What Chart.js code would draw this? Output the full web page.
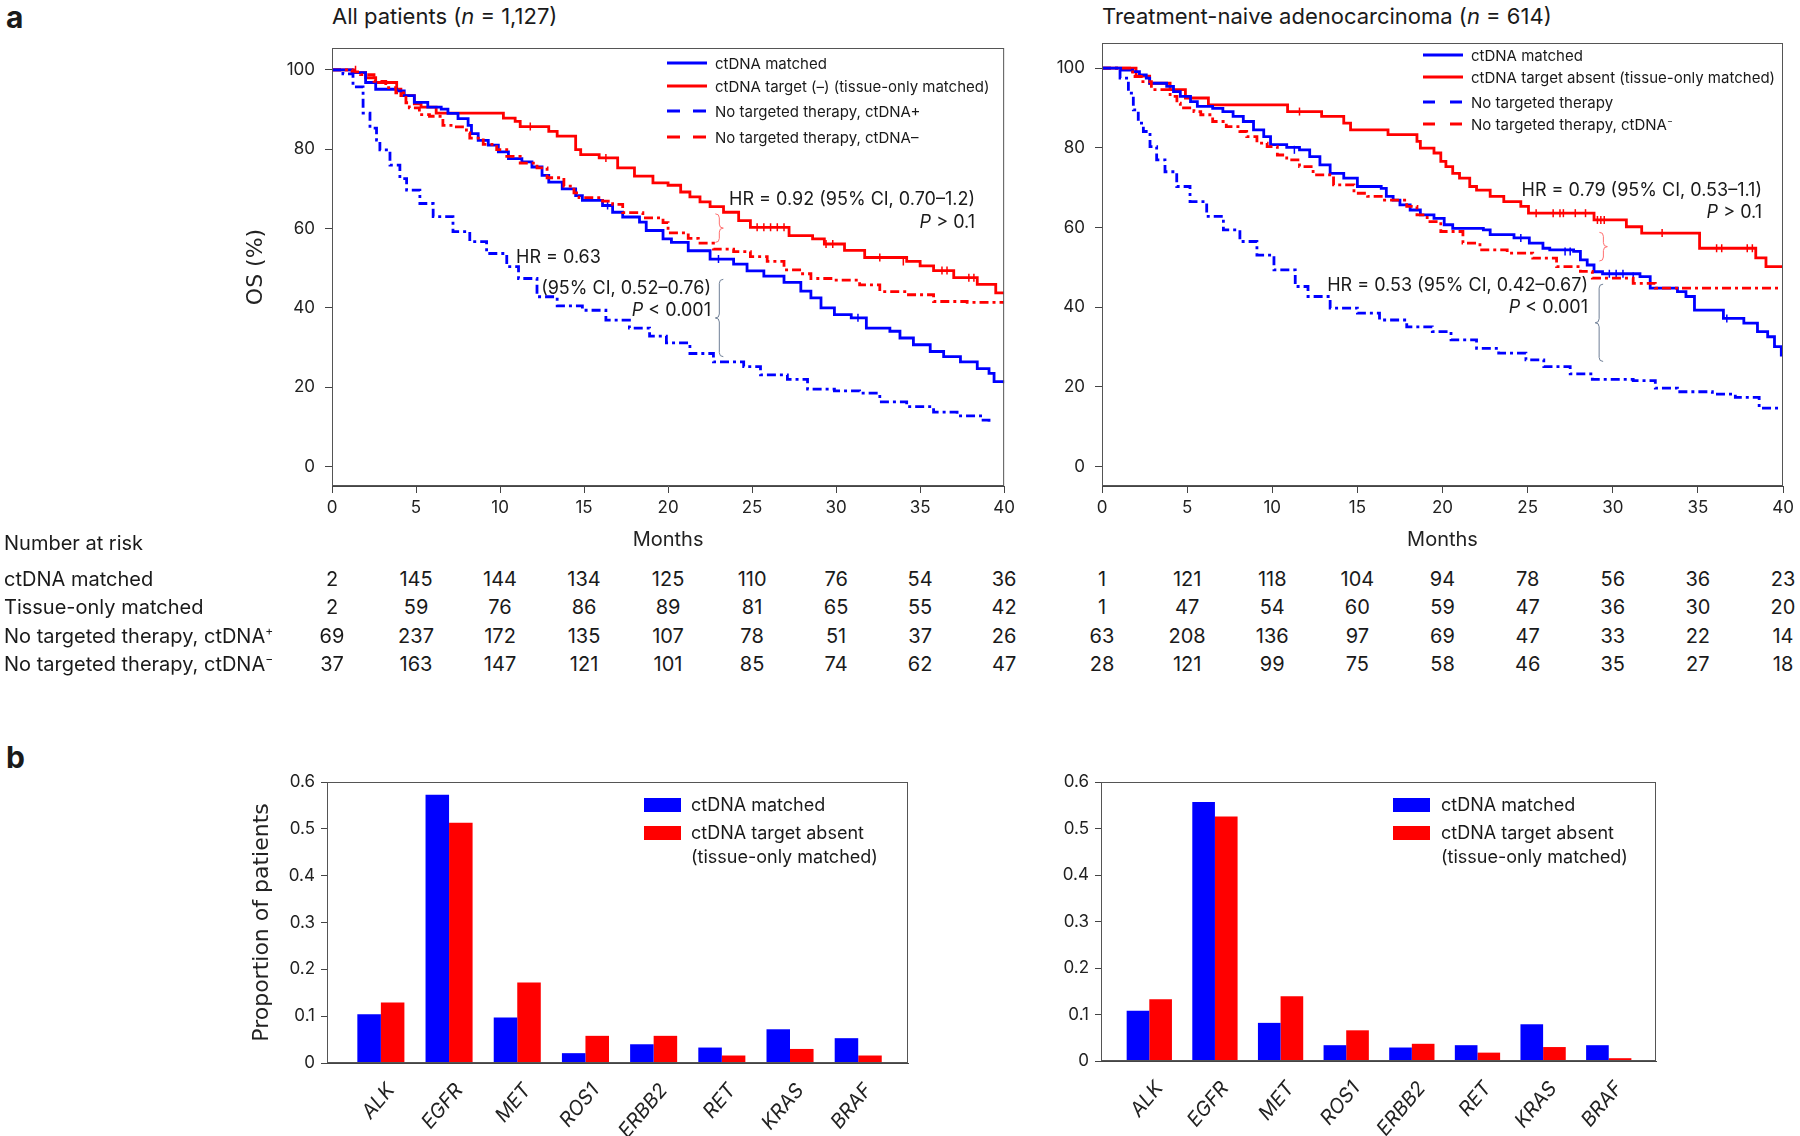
<!DOCTYPE html>
<html>
<head>
<meta charset="utf-8">
<script src="https://cdn.jsdelivr.net/npm/chart.js@4.4.1/dist/chart.umd.min.js"></script>
<style>
  body { margin: 0; background: #fff; font-family: Inter, "Liberation Sans", sans-serif; color: #1a1a1a; }
  #page { position: relative; width: 1800px; height: 1136px; overflow: hidden; }
  .cv { position: absolute; }
  .t { position: absolute; white-space: nowrap; line-height: 1; transform: translateY(-50%); }
  .r { transform: translate(-100%, -50%); }
  .c { transform: translate(-50%, -50%); }
  .panel { font-weight: 700; font-size: 30px; }
  .title { font-size: 22px; }
  .ann { font-size: 18px; }
  .leg { font-size: 15px; }
  .bleg { font-size: 18px; }
  .risk { font-size: 20px; }
  .sw { position: absolute; }
  sup { font-size: 0.6em; line-height: 0; }
</style>
</head>
<body>
<div id="page">
  <div class="t panel" style="left:6px;top:17px">a</div>
  <div class="t panel" style="left:6px;top:757px">b</div>

  <div class="t title" style="left:332px;top:16px">All patients (<i>n</i> = 1,127)</div>
  <div class="t title" style="left:1102px;top:16px">Treatment-naive adenocarcinoma (<i>n</i> = 614)</div>

  <canvas id="kmAll" class="cv" style="left:0;top:0" width="1020" height="560"></canvas>
  <canvas id="kmNaive" class="cv" style="left:1020px;top:0" width="780" height="560"></canvas>
  <canvas id="barAll" class="cv" style="left:0;top:700px" width="920" height="436"></canvas>
  <canvas id="barNaive" class="cv" style="left:920px;top:700px" width="880" height="436"></canvas>

  <!-- KM legends -->
  <svg class="sw" style="left:667px;top:60px" width="40" height="6"><line x1="0" y1="3" x2="40" y2="3" stroke="#0000ff" stroke-width="3"/></svg>
  <svg class="sw" style="left:667px;top:83px" width="40" height="6"><line x1="0" y1="3" x2="40" y2="3" stroke="#ff0000" stroke-width="3"/></svg>
  <svg class="sw" style="left:667px;top:108px" width="40" height="6"><line x1="0" y1="3" x2="40" y2="3" stroke="#0000ff" stroke-width="3" stroke-dasharray="13 13"/></svg>
  <svg class="sw" style="left:667px;top:134px" width="40" height="6"><line x1="0" y1="3" x2="40" y2="3" stroke="#ff0000" stroke-width="3" stroke-dasharray="13 13"/></svg>
  <div class="t leg" style="left:715px;top:63px">ctDNA matched</div>
  <div class="t leg" style="left:715px;top:86px">ctDNA target (–) (tissue-only matched)</div>
  <div class="t leg" style="left:715px;top:111px">No targeted therapy, ctDNA+</div>
  <div class="t leg" style="left:715px;top:137px">No targeted therapy, ctDNA–</div>

  <svg class="sw" style="left:1423px;top:52px" width="40" height="6"><line x1="0" y1="3" x2="40" y2="3" stroke="#0000ff" stroke-width="3"/></svg>
  <svg class="sw" style="left:1423px;top:74px" width="40" height="6"><line x1="0" y1="3" x2="40" y2="3" stroke="#ff0000" stroke-width="3"/></svg>
  <svg class="sw" style="left:1423px;top:99px" width="40" height="6"><line x1="0" y1="3" x2="40" y2="3" stroke="#0000ff" stroke-width="3" stroke-dasharray="12 15"/></svg>
  <svg class="sw" style="left:1423px;top:121px" width="40" height="6"><line x1="0" y1="3" x2="40" y2="3" stroke="#ff0000" stroke-width="3" stroke-dasharray="12 15"/></svg>
  <div class="t leg" style="left:1471px;top:55px">ctDNA matched</div>
  <div class="t leg" style="left:1471px;top:77px">ctDNA target absent (tissue-only matched)</div>
  <div class="t leg" style="left:1471px;top:102px">No targeted therapy</div>
  <div class="t leg" style="left:1471px;top:124px">No targeted therapy, ctDNA<sup>−</sup></div>

  <!-- HR annotations -->
  <div class="t ann r" style="left:975px;top:199px">HR = 0.92 (95% CI, 0.70–1.2)</div>
  <div class="t ann r" style="left:975px;top:222px"><i>P</i> &gt; 0.1</div>
  <div class="t ann" style="left:516px;top:257px">HR = 0.63</div>
  <div class="t ann r" style="left:711px;top:288px">(95% CI, 0.52–0.76)</div>
  <div class="t ann r" style="left:711px;top:310px"><i>P</i> &lt; 0.001</div>
  <div class="t ann r" style="left:1762px;top:190px">HR = 0.79 (95% CI, 0.53–1.1)</div>
  <div class="t ann r" style="left:1762px;top:212px"><i>P</i> &gt; 0.1</div>
  <div class="t ann r" style="left:1588px;top:285px">HR = 0.53 (95% CI, 0.42–0.67)</div>
  <div class="t ann r" style="left:1588px;top:307px"><i>P</i> &lt; 0.001</div>

  <!-- bar legends -->
  <div class="sw" style="left:644px;top:798px;width:37px;height:14px;background:#0000ff"></div>
  <div class="sw" style="left:644px;top:826px;width:37px;height:14px;background:#ff0000"></div>
  <div class="t bleg" style="left:691px;top:805px">ctDNA matched</div>
  <div class="t bleg" style="left:691px;top:833px">ctDNA target absent</div>
  <div class="t bleg" style="left:691px;top:857px">(tissue-only matched)</div>
  <div class="sw" style="left:1393px;top:798px;width:37px;height:14px;background:#0000ff"></div>
  <div class="sw" style="left:1393px;top:826px;width:37px;height:14px;background:#ff0000"></div>
  <div class="t bleg" style="left:1441px;top:805px">ctDNA matched</div>
  <div class="t bleg" style="left:1441px;top:833px">ctDNA target absent</div>
  <div class="t bleg" style="left:1441px;top:857px">(tissue-only matched)</div>

  <div id="risk"></div>
</div>

<script>
// ---- data ----
const monthTicks = [0, 5, 10, 15, 20, 25, 30, 35, 40];
const osTicks = [0, 20, 40, 60, 80, 100];

// all patients, [month, OS %]
const allMatched = [[0,100],[1.2,99.3],[2,96.8],[2.6,95.1],[3.85,94.7],[4.3,93.5],[4.9,91.8],[5.7,90.6],[6.5,90.1],[6.9,89],[7.5,87.7],[8.1,86],[8.3,83.9],[8.7,82.2],[9.3,81],[9.9,79.3],[10.5,77.6],[11.3,76.8],[11.9,75.5],[12.5,73.4],[12.9,71.7],[13.7,70],[14.5,68.3],[14.9,67.1],[16.1,65.8],[16.7,64.1],[17.3,62.9],[18.3,61.6],[18.7,59.5],[19.7,57.4],[20.2,56.5],[21.2,54.4],[22.5,52.3],[23.9,51],[24.7,49.3],[25.7,48],[26.9,46.4],[27.9,44.2],[28.5,42.5],[29.1,40],[29.9,38.3],[30.9,37.5],[31.8,34.9],[33.2,34.1],[33.8,32.4],[34.6,30.7],[35.6,29],[36.4,27.7],[37.4,26.4],[38.4,24.7],[39.1,23.5],[39.4,21.4],[40,21]];
const allTissue = [[0,100],[1.3,99.3],[2,98],[2.6,96.8],[3.85,95.1],[4.1,93.5],[4.9,91.4],[5.3,90.6],[6.2,89.1],[10.2,87.8],[10.9,87],[11.2,85.7],[12.9,84.5],[13.4,83.3],[14.5,79.9],[14.8,78.6],[15.9,77.8],[17,75.3],[18,73.2],[19.1,71.5],[20,70.9],[20.75,69.2],[21.3,68],[21.9,66.7],[22.5,65.5],[23.3,64.1],[24.2,62],[24.9,60.3],[27.2,58.2],[28.6,57.4],[29.3,56.1],[30.5,54.5],[31.7,52.7],[34.2,51.7],[35,50.6],[35.8,49.4],[37,47.6],[38.4,45.9],[39.5,43.8],[40,43.8]];
const allNoTxPos = [[0,100],[0.65,99],[1.25,95.7],[1.85,89.1],[2.26,85.3],[2.65,82.3],[2.85,79.8],[3.45,76],[4.04,72.6],[4.44,69.7],[5.23,66.3],[6.02,63],[7.2,59.2],[8.2,56.7],[9.2,53.7],[10.4,50.4],[11.1,47.4],[12.2,42.8],[13.4,40.5],[14.9,39.4],[16.3,36.9],[17.7,34.9],[18.9,32.9],[19.9,31.2],[21.3,28.5],[22.7,26.4],[24.5,25.2],[25.5,23.1],[27.1,22],[28.3,19.5],[29.9,19.1],[31.4,18.5],[32.6,16.3],[34.2,15.1],[35.8,13.7],[37.2,12.8],[38.6,11.7],[39.1,10.7],[39.2,10.7]];
const allNoTxNeg = [[0,100],[1.2,99.5],[1.7,98.8],[2.5,97.1],[3.2,95.5],[3.8,94.2],[4.4,91.7],[4.6,90.4],[5.2,88.7],[5.8,88.3],[6.6,86],[7.4,85.6],[8,84.1],[8.2,82.8],[9,81.2],[9.8,79.9],[10.4,78.2],[11.2,76.5],[12.2,75.3],[12.8,72.8],[13.8,70.7],[14.4,69],[14.7,67.8],[16.1,66.9],[16.7,66.1],[17.3,64],[18.5,62.7],[19.7,61.5],[20,58.9],[21.2,57.5],[21.8,56.3],[22.7,54.8],[23.9,54.2],[24.9,52.9],[25.9,51.7],[26.9,49.6],[28,48.6],[28.5,47.4],[29.9,47],[31.4,45.8],[32.6,44.1],[34.2,43.3],[35.8,41.6],[37.8,41.4],[40,41.4]];
const allTissueCensor = [[1.4,100],[11.8,85.7],[16.3,77.8],[25.3,60.3],[25.7,60.3],[26.1,60.3],[26.5,60.3],[26.9,60.3],[29.4,56.1],[29.8,56.1],[32.6,52.7],[34,51.7],[36.3,49.4],[36.6,49.4],[37.9,47.6],[38.2,47.6]];
const allMatchedCensor = [[16.4,65.8],[23,52.3],[31.3,37.5]];

// treatment-naive adenocarcinoma
const naiveMatched = [[0,100],[1.1,99.5],[1.8,99.1],[2.2,98.3],[2.6,97.5],[2.8,96.2],[3.8,95.4],[4.2,94.1],[4.6,92.9],[5.2,91.6],[5.6,90.4],[6.5,89.9],[7.1,89.1],[7.7,87.9],[8.3,86.6],[8.9,84.5],[9.5,82.8],[9.9,80.8],[10.85,80.1],[11.6,79.5],[12.2,77.8],[12.8,75.7],[13.4,73.6],[14.2,72.4],[15,70.3],[16.4,69.8],[16.7,67.8],[17.1,66.9],[17.5,65.7],[18.1,64.4],[18.7,63.2],[19.5,62.3],[20.1,60.7],[20.6,59.8],[22.4,59.4],[22.8,58.2],[24.2,57.4],[25.1,56.1],[25.9,54.8],[26.3,54.4],[27.7,54],[28.1,51.9],[28.5,50.6],[28.9,48.9],[29.4,48.4],[31.6,47.7],[32.2,44.8],[33.8,43.9],[34.3,42.7],[34.8,39.3],[36.5,37.2],[37.7,36],[38.5,33.9],[39.1,32.6],[39.5,30.1],[39.9,28],[40,28]];
const naiveTissue = [[0,100],[2,98],[2.8,96.2],[4,94.6],[4.9,92.5],[6.25,90.8],[10.9,89.1],[12.9,87.9],[14.2,86.2],[14.6,84.5],[16.8,83.3],[18.5,81.6],[18.7,79.9],[19.5,78.7],[19.9,76.6],[20.2,75.3],[20.6,73.6],[21,72.4],[21.6,70.3],[22,69.4],[22.8,67.8],[23.6,66.5],[24.6,65.3],[25.05,63.6],[28.9,61.9],[30.8,60.2],[31.7,58.6],[35.1,54.8],[38.4,52.4],[39,50.2],[40,50.2]];
const naiveNoTx = [[0,100],[1.06,97.5],[1.55,93.7],[1.84,89.5],[2.13,86.2],[2.43,84.1],[2.82,80.3],[3.21,77],[3.7,74],[4.39,70.3],[5.17,66.5],[6.15,62.8],[7.13,59.4],[8.1,56.5],[9.1,53.1],[10.1,49.4],[11.35,45.2],[12.1,42.7],[13.4,39.8],[15,38.5],[16.3,36.8],[17.9,35.1],[19.4,33.9],[20.5,31.8],[22,29.7],[23.3,28.5],[24.9,26.8],[25.95,25.1],[27.5,23.3],[28.8,21.9],[31.2,21.6],[32.5,19.7],[33.8,18.8],[35.85,18.2],[37.2,17.4],[38.6,14.7],[40,14.7]];
const naiveNoTxNeg = [[0,100],[1.8,97.9],[2.4,96.6],[2.9,94.6],[4,92.9],[4.4,91.2],[4.6,90],[5.4,89.1],[5.8,88.3],[6.5,86.6],[7.3,85.3],[8.1,84.1],[8.5,82.8],[9.1,81.2],[9.7,80.3],[10.3,78.2],[10.85,77],[11.6,75.3],[12.4,73.2],[13.6,70.7],[14.8,68.6],[15.6,67.8],[16.5,66.9],[17.9,65.3],[18.5,63.2],[19.1,61.5],[19.9,59],[21.2,56.1],[22.2,54.4],[23.8,53.6],[25.3,52.3],[26.7,50.2],[28.1,49],[28.8,47.3],[31.2,46],[32.5,44.8],[40,44.8]];
const naiveTissueCensor = [[11.6,89.1],[25.5,63.6],[26.5,63.6],[26.9,63.6],[27.1,63.6],[27.8,63.6],[28.4,63.6],[29.1,61.9],[29.3,61.9],[29.5,61.9],[32.9,58.6],[36.1,54.8],[36.4,54.8],[37.9,54.8],[38.2,54.8]];
const naiveMatchedCensor = [[11.3,79.5],[24.6,57.4],[27.2,54],[27.5,54],[29.8,48.4],[30.2,48.4],[30.6,48.4],[31.2,47.7],[36.7,37.2]];

// brackets between compared curves: month, from %, to %
const allBraces = [{ t: 23.05, from: 63.7, to: 56.5, color: '#ff7070', side: 1 }, { t: 23.05, from: 47.2, to: 27.7, color: '#6f7f96', side: -1 }];
const naiveBraces = [{ t: 29.45, from: 58.8, to: 51.6, color: '#ff7070', side: 1 }, { t: 29.2, from: 45.8, to: 26.4, color: '#6f7f96', side: -1 }];

// number at risk
const riskLabels = ['ctDNA matched', 'Tissue-only matched', 'No targeted therapy, ctDNA<sup>+</sup>', 'No targeted therapy, ctDNA<sup>−</sup>'];
const riskAll = [
  [2, 145, 144, 134, 125, 110, 76, 54, 36],
  [2, 59, 76, 86, 89, 81, 65, 55, 42],
  [69, 237, 172, 135, 107, 78, 51, 37, 26],
  [37, 163, 147, 121, 101, 85, 74, 62, 47]
];
const riskNaive = [
  [1, 121, 118, 104, 94, 78, 56, 36, 23],
  [1, 47, 54, 60, 59, 47, 36, 30, 20],
  [63, 208, 136, 97, 69, 47, 33, 22, 14],
  [28, 121, 99, 75, 58, 46, 35, 27, 18]
];

// panel b
const genes = ['ALK', 'EGFR', 'MET', 'ROS1', 'ERBB2', 'RET', 'KRAS', 'BRAF'];
const propTicks = [0, 0.1, 0.2, 0.3, 0.4, 0.5, 0.6];
const barAllMatched = [0.104, 0.573, 0.097, 0.021, 0.040, 0.033, 0.072, 0.053];
const barAllTissue = [0.129, 0.513, 0.172, 0.058, 0.058, 0.016, 0.030, 0.016];
const barNaiveMatched = [0.108, 0.557, 0.082, 0.034, 0.029, 0.034, 0.079, 0.034];
const barNaiveTissue = [0.133, 0.526, 0.139, 0.066, 0.037, 0.018, 0.030, 0.006];

// ---- helpers ----
Chart.defaults.font.family = 'Inter, "Liberation Sans", sans-serif';
Chart.defaults.color = '#222';

const BLUE = '#0000ff', RED = '#ff0000';
const toXY = arr => arr.map(([x, y]) => ({ x, y }));

const frame = {
  id: 'frame',
  afterDraw(chart) {
    const a = chart.chartArea, ctx = chart.ctx;
    ctx.save();
    ctx.strokeStyle = '#555';
    ctx.lineWidth = 1;
    ctx.strokeRect(a.left + 0.5, a.top + 0.5, a.width - 1, a.height - 1);
    ctx.restore();
  }
};

function bracesPlugin(list) {
  return {
    id: 'braces',
    afterDatasetsDraw(chart) {
      const xs = chart.scales.x, ys = chart.scales.y, ctx = chart.ctx;
      ctx.save();
      ctx.lineWidth = 1;
      list.forEach(b => {
        const x = xs.getPixelForValue(b.t), y1 = ys.getPixelForValue(b.from), y2 = ys.getPixelForValue(b.to);
        const m = (y1 + y2) / 2, d = b.side;
        ctx.strokeStyle = b.color;
        ctx.beginPath();
        ctx.moveTo(x - 4 * d, y1);
        ctx.quadraticCurveTo(x, y1, x, y1 + 4);
        ctx.lineTo(x, m - 4);
        ctx.quadraticCurveTo(x, m, x + 4 * d, m);
        ctx.quadraticCurveTo(x, m, x, m + 4);
        ctx.lineTo(x, y2 - 4);
        ctx.quadraticCurveTo(x, y2, x - 4 * d, y2);
        ctx.stroke();
      });
      ctx.restore();
    }
  };
}

function curve(data, color, dashed) {
  return {
    data: toXY(data), borderColor: color, borderWidth: 2.8, pointRadius: 0,
    stepped: 'before', fill: false, borderDash: dashed ? [9, 4, 3, 4] : []
  };
}
function censor(data, color) {
  return {
    data: toXY(data), showLine: false, borderColor: color, pointStyle: 'line',
    rotation: 90, pointRadius: 4, borderWidth: 1.5, pointHoverRadius: 0
  };
}

const axisGrid = { display: true, drawOnChartArea: false, drawTicks: true, tickLength: 7, color: '#444', lineWidth: 1 };

function kmChart(id, sets, yMin, yMax, pad, yWidth, yTitle, braces) {
  return new Chart(document.getElementById(id), {
    type: 'line',
    data: { datasets: sets },
    options: {
      responsive: false, animation: false,
      layout: { padding: pad },
      plugins: { legend: { display: false }, tooltip: { enabled: false } },
      scales: {
        x: {
          type: 'linear', min: 0, max: 40,
          afterBuildTicks: s => { s.ticks = monthTicks.map(v => ({ value: v })); },
          afterFit: s => { s.height = 74; },
          grid: axisGrid, border: { display: true, color: '#444' },
          ticks: { font: { size: 17 }, padding: 5, maxRotation: 0 },
          title: { display: true, text: 'Months', font: { size: 20 }, padding: { top: 0, bottom: 8 } }
        },
        y: {
          min: yMin, max: yMax,
          afterBuildTicks: s => { s.ticks = osTicks.map(v => ({ value: v })); },
          afterFit: s => { s.width = yWidth; },
          grid: axisGrid, border: { display: true, color: '#444' },
          ticks: { font: { size: 17 }, padding: 10 },
          title: { display: !!yTitle, text: yTitle || '', font: { family: '"DejaVu Sans"', size: 22 }, padding: { top: 11, bottom: 0 } }
        }
      }
    },
    plugins: [frame, bracesPlugin(braces)]
  });
}

const km1 = kmChart('kmAll', [
  curve(allNoTxPos, BLUE, true),
  curve(allNoTxNeg, RED, true),
  curve(allMatched, BLUE, false),
  curve(allTissue, RED, false),
  censor(allMatchedCensor, BLUE),
  censor(allTissueCensor, RED)
], -4.9, 105.5, { left: 232, top: 48, right: 15, bottom: 0 }, 100, 'OS (%)', allBraces);

const km2 = kmChart('kmNaive', [
  curve(naiveNoTx, BLUE, true),
  curve(naiveNoTxNeg, RED, true),
  curve(naiveMatched, BLUE, false),
  curve(naiveTissue, RED, false),
  censor(naiveMatchedCensor, BLUE),
  censor(naiveTissueCensor, RED)
], -4.85, 106.3, { left: 0, top: 43, right: 17, bottom: 0 }, 82, null, naiveBraces);

function barChart(id, matched, tissue, xMin, xMax, pad, yWidth, xHeight, yTitle) {
  const mk = (vals, color) => ({
    data: vals.map((v, i) => ({ x: i, y: v })), backgroundColor: color, borderWidth: 0,
    categoryPercentage: 0.69, barPercentage: 1.0
  });
  return new Chart(document.getElementById(id), {
    type: 'bar',
    data: { datasets: [mk(matched, BLUE), mk(tissue, RED)] },
    options: {
      responsive: false, animation: false,
      layout: { padding: pad },
      plugins: { legend: { display: false }, tooltip: { enabled: false } },
      scales: {
        x: {
          type: 'linear', min: xMin, max: xMax, offset: false,
          afterBuildTicks: s => { s.ticks = genes.map((g, i) => ({ value: i })); },
          afterFit: s => { s.height = xHeight; },
          grid: { display: false }, border: { display: true, color: '#444' },
          ticks: { autoSkip: false, minRotation: 50, maxRotation: 50, padding: 8, labelOffset: 10,
                   font: { size: 20, style: 'italic' }, callback: v => genes[v] }
        },
        y: {
          min: 0, max: 0.6,
          afterBuildTicks: s => { s.ticks = propTicks.map(v => ({ value: v })); },
          afterFit: s => { s.width = yWidth; },
          grid: { display: true, drawOnChartArea: false, tickLength: 6, color: '#444' },
          border: { display: true, color: '#444' },
          ticks: { font: { size: 17 }, padding: 6, callback: v => (v === 0 ? '0' : v.toFixed(1)) },
          title: { display: !!yTitle, text: yTitle || '', font: { family: '"DejaVu Sans"', size: 22 }, padding: { top: 12, bottom: 0 } }
        }
      }
    },
    plugins: [frame]
  });
}

barChart('barAll', barAllMatched, barAllTissue, -0.79, 7.73, { left: 237, top: 82, right: 12, bottom: 0 }, 90, 73, 'Proportion of patients');
barChart('barNaive', barNaiveMatched, barNaiveTissue, -0.736, 7.72, { left: 0, top: 82, right: 144, bottom: 0 }, 181, 75, null);

// number-at-risk table, placed on the KM x scales
const risk = document.getElementById('risk');
function addText(html, x, y, cls) {
  const d = document.createElement('div');
  d.className = 't risk' + (cls ? ' ' + cls : '');
  d.style.left = x + 'px';
  d.style.top = y + 'px';
  d.innerHTML = html;
  risk.appendChild(d);
}
const rowY = [579, 607, 636, 664];
addText('Number at risk', 4, 543);
riskLabels.forEach((lab, r) => addText(lab, 4, rowY[r]));
[[km1, riskAll, 0], [km2, riskNaive, 1020]].forEach(([chart, table, off]) => {
  table.forEach((row, r) => row.forEach((n, i) => {
    addText(String(n), off + chart.scales.x.getPixelForValue(monthTicks[i]), rowY[r], 'c');
  }));
});
</script>
</body>
</html>
